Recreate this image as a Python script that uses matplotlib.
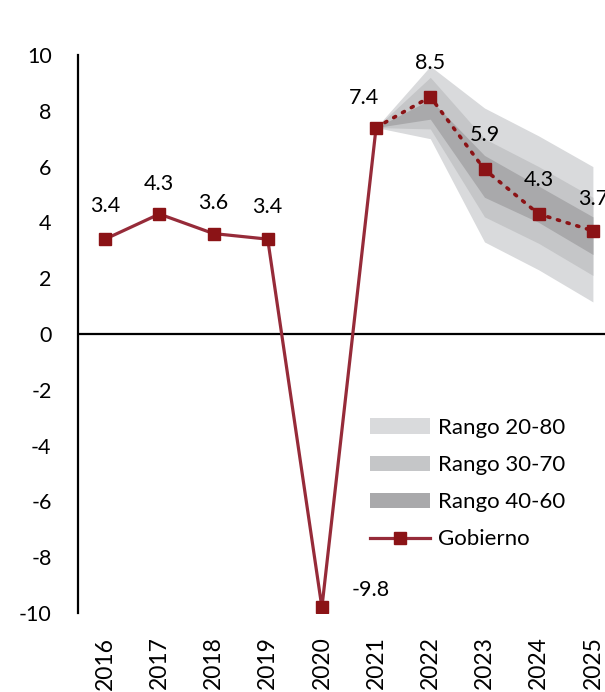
import matplotlib
matplotlib.use("Agg")
import matplotlib.pyplot as plt
from matplotlib.patches import Patch
from matplotlib.lines import Line2D

plt.rcParams['font.family'] = ['Lato', 'DejaVu Sans']

years = ["2016", "2017", "2018", "2019", "2020", "2021", "2022", "2023", "2024", "2025"]
gobierno = [3.4, 4.3, 3.6, 3.4, -9.8, 7.4, 8.5, 5.9, 4.3, 3.7]
n_hist = 6  # 2016-2021 observed, 2021-2025 projected

fan_years = ["2021", "2022", "2023", "2024", "2025"]
r2080_lo = [7.4, 7.0, 3.3, 2.3, 1.15]
r2080_hi = [7.4, 9.6, 8.1, 7.1, 6.0]
r3070_lo = [7.4, 7.35, 4.2, 3.25, 2.1]
r3070_hi = [7.4, 9.2, 7.0, 6.0, 4.9]
r4060_lo = [7.4, 7.7, 4.9, 4.0, 2.85]
r4060_hi = [7.4, 8.4, 6.4, 5.3, 4.2]

# label offsets in pixels (dx, dy)
label_off = [(0, 33), (0, 30), (0, 31), (0, 32), (49, 17),
             (-12, 30), (0, 34), (0, 34), (0, 34), (0, 32)]

c_light = "#d9dadc"
c_mid = "#c5c6c8"
c_dark = "#a9a9ab"
c_line = "#962b39"
c_mark = "#8b1316"

dpi = 100
fig = plt.figure(figsize=(6.05, 6.92), dpi=dpi)
ax = fig.add_axes([78 / 605, 79 / 692, 542 / 605, 558 / 692])

x = list(range(len(years)))
fx = x[n_hist - 1:]

ax.fill_between(fx, r2080_lo, r2080_hi, color=c_light, lw=0, zorder=1)
ax.fill_between(fx, r3070_lo, r3070_hi, color=c_mid, lw=0, zorder=2)
ax.fill_between(fx, r4060_lo, r4060_hi, color=c_dark, lw=0, zorder=3)

ax.axhline(0, color="black", lw=1.6, zorder=4)

ax.plot(x[:n_hist], gobierno[:n_hist], color=c_line, lw=2.3, zorder=5)
ax.plot(fx, gobierno[n_hist - 1:], color=c_mark, lw=2.6, ls=(0, (0.6, 2.2)),
        dash_capstyle="round", zorder=5)
ax.plot(x, gobierno, ls="none", marker="s", ms=9, color=c_mark, zorder=6)

px2pt = 72 / dpi
for xi, v, (dx, dy) in zip(x, gobierno, label_off):
    ax.annotate(f"{v:.1f}", (xi, v), xytext=(dx * px2pt, dy * px2pt),
                textcoords="offset points", ha="center", va="center",
                fontsize=15.5, color="black", zorder=7)

ax.set_xlim(-0.5, len(years) - 0.5)
ax.set_ylim(-10, 10)
ax.set_yticks(range(-10, 11, 2))
ax.set_yticklabels([str(t) for t in range(-10, 11, 2)], fontsize=15.5)
ax.set_xticks(x)
ax.set_xticklabels(years, rotation=90, fontsize=16.5)
ax.tick_params(axis="both", length=0)
ax.tick_params(axis="y", pad=19)
ax.tick_params(axis="x", pad=17)

for s in ["top", "right", "bottom"]:
    ax.spines[s].set_visible(False)
ax.spines["left"].set_linewidth(1.6)
ax.spines["left"].set_zorder(8)

handles = [
    Patch(facecolor=c_light, edgecolor="none", label="Rango 20-80"),
    Patch(facecolor=c_mid, edgecolor="none", label="Rango 30-70"),
    Patch(facecolor=c_dark, edgecolor="none", label="Rango 40-60"),
    Line2D([0], [0], color=c_line, lw=2.3, marker="s", ms=9,
           markerfacecolor=c_mark, markeredgecolor=c_mark, label="Gobierno"),
]
leg = ax.legend(handles=handles, loc="upper left",
                bbox_to_anchor=(370 / 605, (692 - 418) / 692),
                bbox_transform=fig.transFigure, frameon=False, fontsize=16,
                handlelength=2.7, handleheight=0.7, handletextpad=0.36,
                labelspacing=0.77, borderpad=0, borderaxespad=0)

fig.savefig("out.png", dpi=dpi)
